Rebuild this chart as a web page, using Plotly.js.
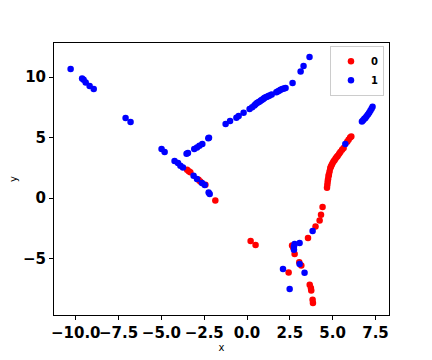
<!DOCTYPE html>
<html>
<head>
<meta charset="utf-8">
<script src="https://cdn.plot.ly/plotly-3.0.1.min.js"></script>
<style>
  html, body { margin: 0; padding: 0; background: #fff; }
  #chart { width: 432px; height: 360px; }
</style>
</head>
<body>
<div id="chart"></div>
<script>
// class 0 (red)
const x0 = [-3.50, -3.40, -3.31, -2.83, -2.73, -2.43, -1.85,
    0.21, 0.50,
    6.09, 6.02, 5.93, 5.85, 5.64, 5.55, 5.45, 5.38, 5.30, 5.25, 5.18, 5.12,
    5.06, 5.00, 4.95, 4.90, 4.86, 4.82, 4.78, 4.76, 4.73, 4.71, 4.69, 4.67,
    4.41, 4.32, 4.24, 4.00, 3.56, 2.63, 2.70, 2.78, 3.05, 3.17, 2.43,
    3.66, 3.73, 3.75, 3.83, 3.85];
const y0 = [2.34, 2.22, 2.12, 1.51, 1.37, 1.10, -0.20,
    -3.55, -3.88,
    5.09, 5.00, 4.82, 4.65, 4.13, 3.98, 3.80, 3.65, 3.50, 3.40, 3.28, 3.15,
    3.03, 2.90, 2.75, 2.61, 2.45, 2.20, 1.95, 1.79, 1.55, 1.35, 1.10, 0.85,
    -0.74, -1.38, -1.85, -2.35, -3.31, -3.92, -4.10, -4.63, -5.32, -5.57, -6.15,
    -7.17, -7.44, -7.64, -8.40, -8.68];

// class 1 (blue)
const x1 = [-10.30, -9.63, -9.54, -9.42, -9.19, -8.95, -7.09, -6.80, -4.99, -4.81,
    -4.23, -4.03, -3.89, -3.74, -3.12, -2.92, -2.63, -2.47, -2.24, -2.18,
    -3.53, -3.45, -3.08, -2.92, -2.78, -2.61, -2.26, -2.22, -1.25, -0.99,
    -0.62, -0.49, -0.20, 0.15, 0.30, 0.43, 0.50, 0.58, 0.66, 0.74,
    0.81, 0.88, 0.95, 1.01, 1.09, 1.17, 1.25, 1.32, 1.44, 1.71,
    1.79, 1.87, 1.96, 2.06, 2.16, 2.25, 2.66, 3.13, 3.30, 3.65,
    6.71, 6.78, 6.85, 6.91, 6.98, 7.06, 7.13, 7.20, 7.27, 7.33,
    5.74,
    3.83, 3.07, 2.78, 2.74, 2.74, 3.07, 2.10, 3.36, 2.49];
const y1 = [10.66, 9.88, 9.78, 9.55, 9.26, 9.01, 6.61, 6.28, 4.05, 3.80,
    3.06, 2.89, 2.67, 2.53, 1.84, 1.57, 1.24, 1.07, 0.46, 0.33,
    3.66, 3.72, 4.05, 4.18, 4.32, 4.46, 4.93, 4.98, 6.11, 6.36,
    6.64, 6.78, 7.05, 7.36, 7.50, 7.65, 7.75, 7.85, 7.92, 7.98,
    8.05, 8.12, 8.19, 8.26, 8.32, 8.37, 8.43, 8.48, 8.56, 8.73,
    8.80, 8.87, 8.94, 9.01, 9.05, 9.09, 9.50, 10.46, 10.91, 11.65,
    6.33, 6.42, 6.55, 6.61, 6.76, 6.91, 7.05, 7.21, 7.38, 7.55,
    4.46,
    -2.73, -3.72, -3.80, -4.00, -4.27, -5.45, -5.87, -6.17, -7.52];

const traces = [
    { x: x0, y: y0, name: '0', type: 'scatter', mode: 'markers',
      marker: { color: '#ff0000', size: 6.5 } },
    { x: x1, y: y1, name: '1', type: 'scatter', mode: 'markers',
      marker: { color: '#0000ff', size: 6.5 } }
];

const axisCommon = {
    showgrid: false,
    zeroline: false,
    showline: true,
    mirror: true,
    linecolor: '#000',
    linewidth: 1,
    ticks: 'outside',
    ticklen: 4,
    tickcolor: '#000',
    tickangle: 0,
    tickfont: { family: 'DejaVu Sans', size: 15, weight: 'bold', color: '#000' }
};

const layout = {
    width: 432,
    height: 360,
    paper_bgcolor: '#fff',
    plot_bgcolor: '#fff',
    margin: { t: 43, r: 43, b: 45, l: 54 },
    font: { family: 'DejaVu Sans', color: '#000' },
    showlegend: true,
    legend: {
        x: 0.985, y: 0.99, xanchor: 'right', yanchor: 'top',
        bgcolor: '#fff', bordercolor: '#ccc', borderwidth: 1,
        itemwidth: 30, tracegroupgap: 0,
        font: { family: 'DejaVu Sans', size: 10, weight: 'bold' }
    },
    xaxis: {
        ...axisCommon,
        range: [-11.27, 8.29],
        tick0: 0, dtick: 2.5, tickformat: '.1f',
        title: { text: 'x', font: { size: 10 }, standoff: 0 }
    },
    yaxis: {
        ...axisCommon,
        range: [-9.67, 12.81],
        tick0: 0, dtick: 5,
        title: { text: 'y', font: { size: 10 }, standoff: 3 }
    }
};

Plotly.newPlot('chart', traces, layout, { displayModeBar: false, staticPlot: true });
</script>
</body>
</html>
